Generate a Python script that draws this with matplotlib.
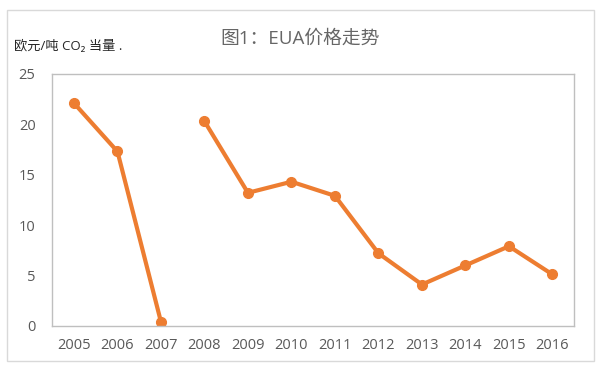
import numpy as np
import matplotlib.pyplot as plt
from matplotlib.patches import Rectangle

plt.rcParams['font.family'] = ['Open Sans', 'Noto Sans CJK SC', 'DejaVu Sans']

# --- data ---
years = ['2005', '2006', '2007', '2008', '2009', '2010',
         '2011', '2012', '2013', '2014', '2015', '2016']
# phase 1 (2005-2007) and phase 2 (2008-2016) are drawn as separate lines
phase1_prices = [22.1, 17.3, 0.4]
phase2_prices = [20.3, 13.2, 14.3, 12.9, 7.2, 4.1, 6.0, 7.9, 5.1]

orange = '#ED7D31'
grey_text = '#595959'

fig = plt.figure(figsize=(6, 3.75), dpi=100)
ax = fig.add_axes([0.087, 0.131, 0.870, 0.672])

x = np.arange(len(years))
n1 = len(phase1_prices)
ax.plot(x[:n1], phase1_prices, color=orange, lw=3, marker='o', ms=7)
ax.plot(x[n1:], phase2_prices, color=orange, lw=3, marker='o', ms=7)

ax.set_xlim(-0.5, len(years) - 0.5)
ax.set_ylim(0, 25)
ax.set_yticks([0, 5, 10, 15, 20, 25])
ax.set_xticks(x)
ax.set_xticklabels(years)
ax.tick_params(length=0, labelsize=10.5, colors=grey_text)
ax.tick_params(axis='y', pad=12)
ax.tick_params(axis='x', pad=9)
for s in ax.spines.values():
    s.set_color('#BFBFBF')
    s.set_linewidth(1)

fig.text(0.5, 0.897, '图1：EUA价格走势', ha='center', va='center',
         fontsize=13.5, color='#666666')
fig.text(0.023, 0.877, '欧元/吨 CO₂ 当量 .', ha='left', va='center',
         fontsize=9.5, color='#262626')

# outer chart border
fig.patches.append(Rectangle((0.012, 0.037), 0.978, 0.936, transform=fig.transFigure,
                             fill=False, edgecolor='#D9D9D9', lw=1))

fig.savefig('out.png', dpi=100)
